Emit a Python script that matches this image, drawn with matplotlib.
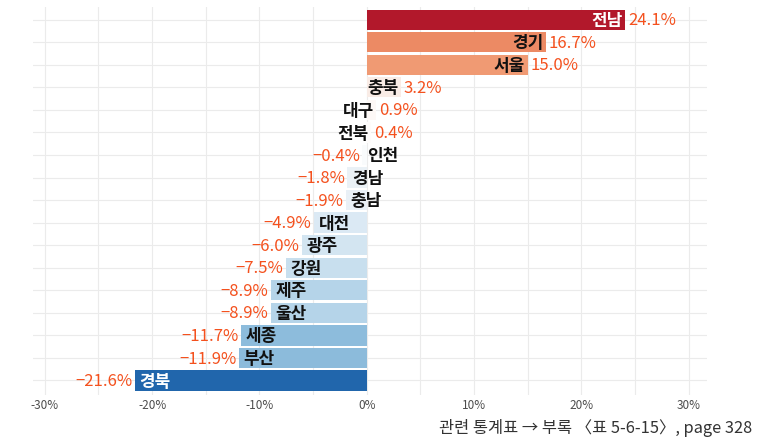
import matplotlib
matplotlib.use("Agg")
import matplotlib.pyplot as plt
from matplotlib.ticker import MultipleLocator, FixedLocator

plt.rcParams['font.family'] = ['Noto Sans CJK KR', 'DejaVu Sans']

regions = ['전남', '경기', '서울', '충북', '대구', '전북', '인천', '경남', '충남',
           '대전', '광주', '강원', '제주', '울산', '세종', '부산', '경북']
values = [24.1, 16.7, 15.0, 3.2, 0.9, 0.4, -0.4, -1.8, -1.9,
          -4.9, -6.0, -7.5, -8.9, -8.9, -11.7, -11.9, -21.6]
bar_colors = ['#b2182b', '#ec8a64', '#f09a73', '#f9ece6', '#fdf8f6', '#fefcfb',
              '#f9fbfc', '#eaf1f6', '#e9f0f6', '#dbe9f4', '#d3e5f1', '#c8dfee',
              '#b5d4e9', '#b5d4e9', '#8dbcdc', '#8cbbdb', '#2166ac']
name_colors = ['white'] + ['#111111'] * 15 + ['white']
xticks = [-30, -20, -10, 0, 10, 20, 30]
xticklabels = ['-30%', '-20%', '-10%', '0%', '10%', '20%', '30%']
caption = '관련 통계표 → 부록 〈표 5-6-15〉, page 328'

fig = plt.figure(figsize=(7.59, 4.40), dpi=100)
ax = fig.add_axes([0.0435, 0.102, 0.888, 0.882])

n = len(regions)
ypos = list(range(n - 1, -1, -1))
ax.barh(ypos, values, height=0.9, color=bar_colors, zorder=2)

val_color = '#f4511e'
for y, v, r, nc in zip(ypos, values, regions, name_colors):
    yt = y - 0.05
    if v >= 0:
        ax.text(v - 0.25, yt, r, ha='right', va='center', fontsize=12.2,
                fontweight='bold', color=nc, zorder=3)
        ax.text(v + 0.25, yt, f'{v:.1f}%', ha='left', va='center', fontsize=12,
                color=val_color, zorder=3)
    else:
        ax.text(v + 0.4, yt, r, ha='left', va='center', fontsize=12.2,
                fontweight='bold', color=nc, zorder=3)
        ax.text(v - 0.25, yt, f'−{abs(v):.1f}%', ha='right', va='center',
                fontsize=12, color=val_color, zorder=3)

ax.set_xlim(-31.1, 31.7)
ax.set_ylim(-0.65, n - 1 + 0.56)
ax.xaxis.set_major_locator(FixedLocator(xticks))
ax.set_xticklabels(xticklabels, fontsize=8.5, color='#4d4d4d')
ax.xaxis.set_minor_locator(MultipleLocator(5))
ax.set_yticks(ypos)
ax.set_yticklabels([])
ax.tick_params(axis='both', which='both', length=0, pad=3)
ax.grid(True, which='both', axis='x', color='#ebebeb', linewidth=0.8, zorder=0)
ax.grid(True, which='major', axis='y', color='#ebebeb', linewidth=0.8, zorder=0)
for s in ax.spines.values():
    s.set_visible(False)

fig.text(0.991, 0.028, caption, ha='right', va='center', fontsize=11.8, color='#333333')

fig.savefig('out.png', dpi=100)
